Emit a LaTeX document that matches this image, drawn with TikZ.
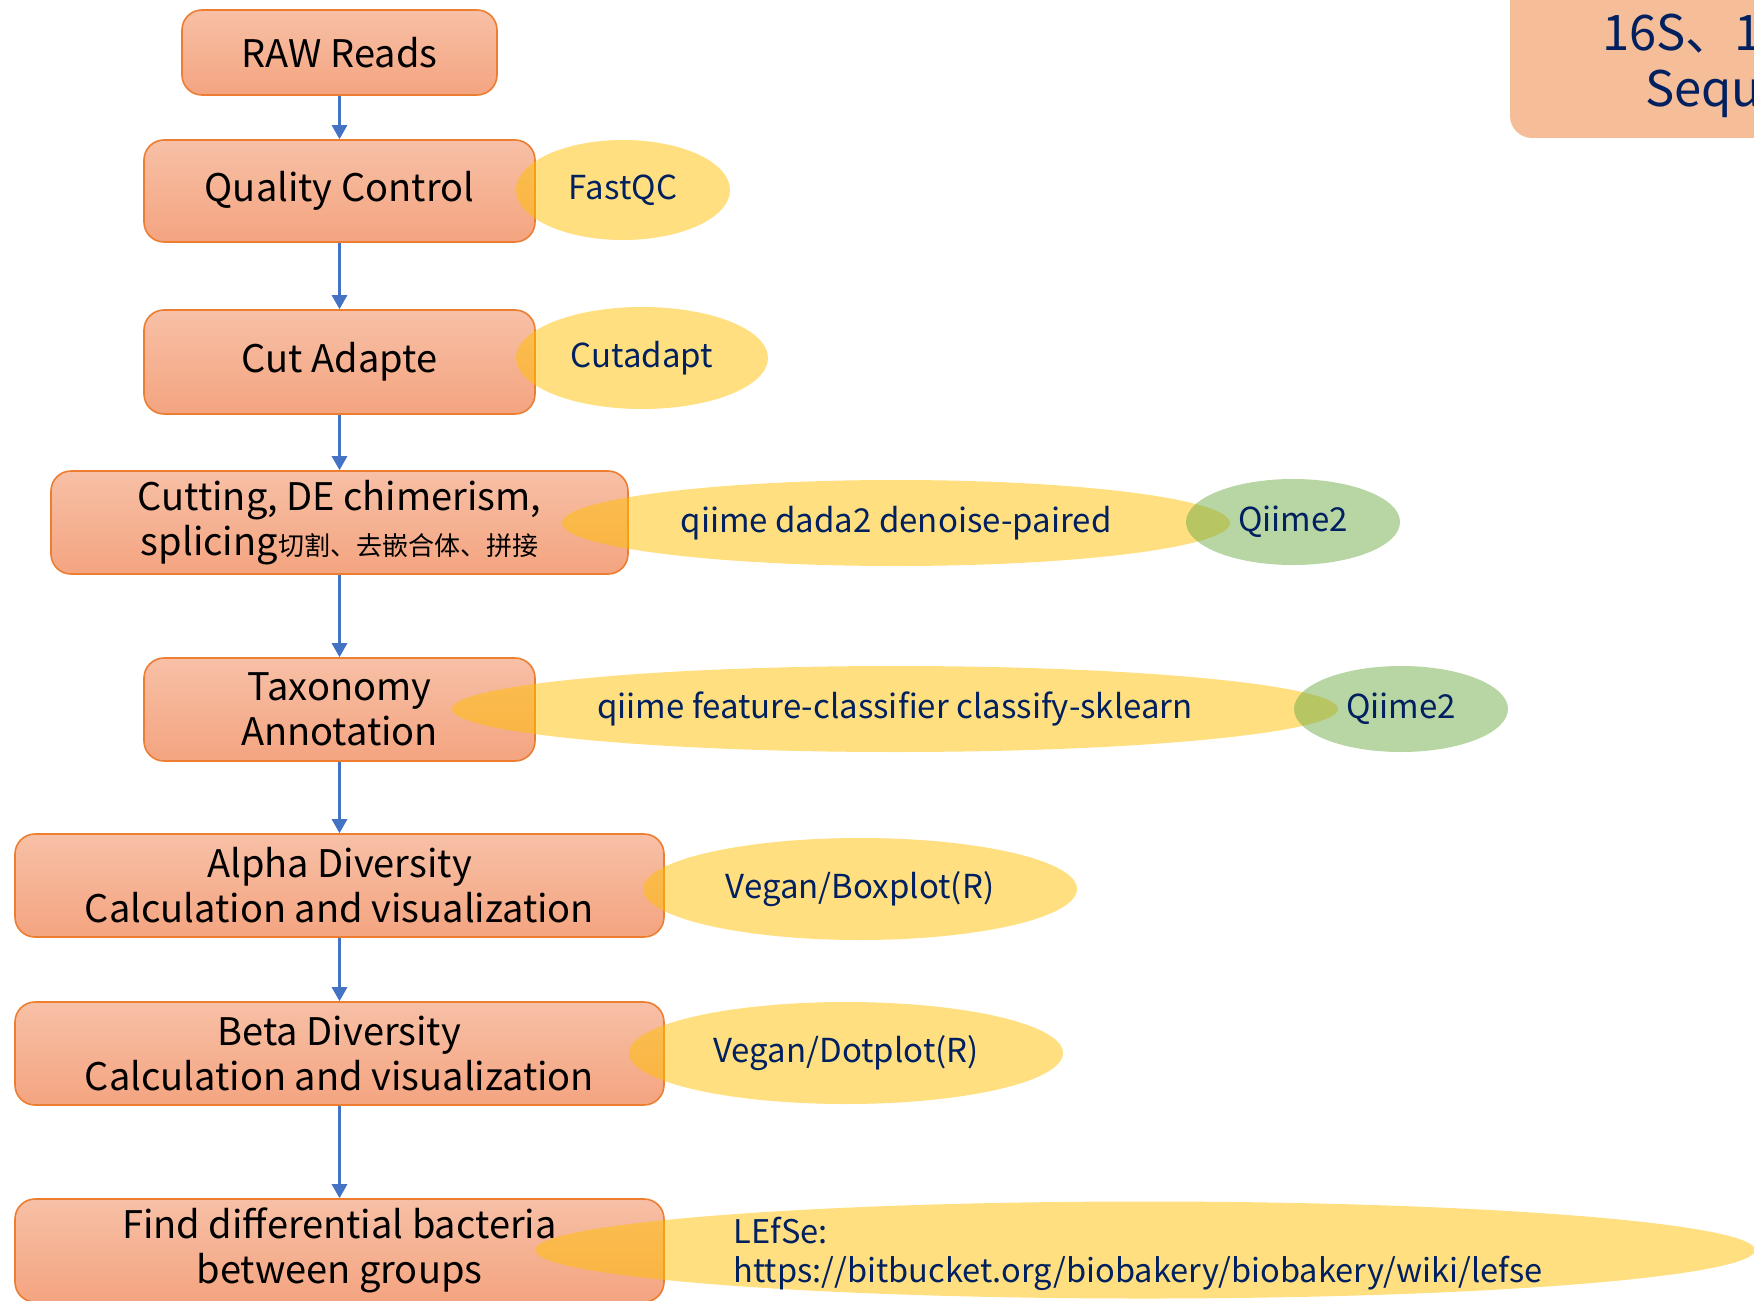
\documentclass[tikz,border=0pt]{standalone}
\usepackage{fontspec}
\setmainfont{Noto Sans CJK SC}
\usetikzlibrary{shapes.geometric,arrows.meta}
\definecolor{boxtop}{RGB}{247,192,166}
\definecolor{boxbot}{RGB}{244,164,128}
\definecolor{boxline}{RGB}{237,125,49}
\definecolor{toolgold}{RGB}{255,192,0}
\definecolor{toolgreen}{RGB}{112,173,71}
\definecolor{navy}{RGB}{0,32,96}
\definecolor{flowblue}{RGB}{68,114,196}
\definecolor{titlefill}{RGB}{245,190,152}
\tikzset{
  stepbox/.style={draw=boxline, line width=0.8pt, rounded corners=10pt,
    top color=boxtop, bottom color=boxbot, align=center, inner sep=0pt,
    font=\fontsize{19}{22.5}\selectfont},
  tool/.style={ellipse, fill=toolgold, fill opacity=0.5, text opacity=1,
    text=navy, inner sep=0pt, font=\fontsize{16.5}{19.5}\selectfont},
  qiime/.style={tool, fill=toolgreen},
  flow/.style={draw=flowblue, line width=1.4pt, -{Triangle[width=7.5pt,length=7pt]}},
}
\begin{document}
\begin{tikzpicture}[x=0.5pt,y=-0.5pt]
\clip (0,0) rectangle (1754,1300);
%\draw[step=100,gray,very thin] (0,0) grid (1754,1300);
%.............................
\fill[titlefill, rounded corners=11pt] (1510,-40) rectangle (1820,138);
\node[anchor=base west, text=navy, font=\fontsize{24.5}{30}\selectfont] (title1) at (1595,51) {16S、1};
\node[anchor=base west, text=navy, font=\fontsize{24.5}{30}\selectfont] (title2) at (1638,107) {Sequ};
%.............................
\node[stepbox, minimum width=157.5pt, minimum height=42.5pt] (raw) at (339.5,52.5) {RAW Reads};
\node[stepbox, minimum width=195.5pt, minimum height=51pt] (qc) at (339.5,191) {Quality Control};
\node[stepbox, minimum width=195.5pt, minimum height=52pt] (cut) at (339.5,362) {Cut Adapte};
\node[stepbox, minimum width=288.5pt, minimum height=51.5pt] (chim) at (339.5,522.5)
  {Cutting, DE chimerism,\\ splicing{\fontsize{13}{15}\selectfont 切割、去嵌合体、拼接}};
\node[stepbox, minimum width=195.5pt, minimum height=51.5pt] (tax) at (339.5,709.5) {Taxonomy\\ Annotation};
\node[stepbox, minimum width=324.5pt, minimum height=51.5pt] (alpha) at (339.5,885.5) {Alpha Diversity\\ Calculation and visualization};
\node[stepbox, minimum width=324.5pt, minimum height=51.5pt] (beta) at (339.5,1053.5) {Beta Diversity\\ Calculation and visualization};
\node[stepbox, minimum width=324.5pt, minimum height=51.5pt] (diff) at (339.5,1250.5) {Find differential bacteria\\ between groups};
%.............................
\draw[flow] (raw.south) -- (qc.north);
\draw[flow] (qc.south) -- (cut.north);
\draw[flow] (cut.south) -- (chim.north);
\draw[flow] (chim.south) -- (tax.north);
\draw[flow] (tax.south) -- (alpha.north);
\draw[flow] (alpha.south) -- (beta.north);
\draw[flow] (beta.south) -- (diff.north);
%.............................
\node[tool, minimum width=107pt, minimum height=50pt] (fastqc) at (623,190) {FastQC};
\node[tool, minimum width=126pt, minimum height=51pt] (cutadapt) at (642,358) {Cutadapt};
\node[tool, minimum width=334pt, minimum height=43pt] (dada) at (896,523) {qiime dada2 denoise-paired};
\node[qiime, minimum width=107pt, minimum height=43pt] (qiimeA) at (1293,522) {Qiime2};
\node[tool, minimum width=443pt, minimum height=43pt] (sklearn) at (895,709) {qiime feature-classifier classify-sklearn};
\node[qiime, minimum width=107pt, minimum height=43pt] (qiimeB) at (1401,709) {Qiime2};
\node[tool, minimum width=217pt, minimum height=51pt] (boxplot) at (860,889) {Vegan/Boxplot(R)};
\node[tool, minimum width=217pt, minimum height=51pt] (dotplot) at (846,1053) {Vegan/Dotplot(R)};
\node[tool, minimum width=610pt, minimum height=48.5pt] (lefse) at (1145,1250) {};
\node[text=navy, align=left, inner sep=0pt, font=\fontsize{16.3}{19.5}\selectfont] (lefsetxt) at (1138,1254)
  {LEfSe:\\ https://bitbucket.org/biobakery/biobakery/wiki/lefse};
\end{tikzpicture}
\end{document}
